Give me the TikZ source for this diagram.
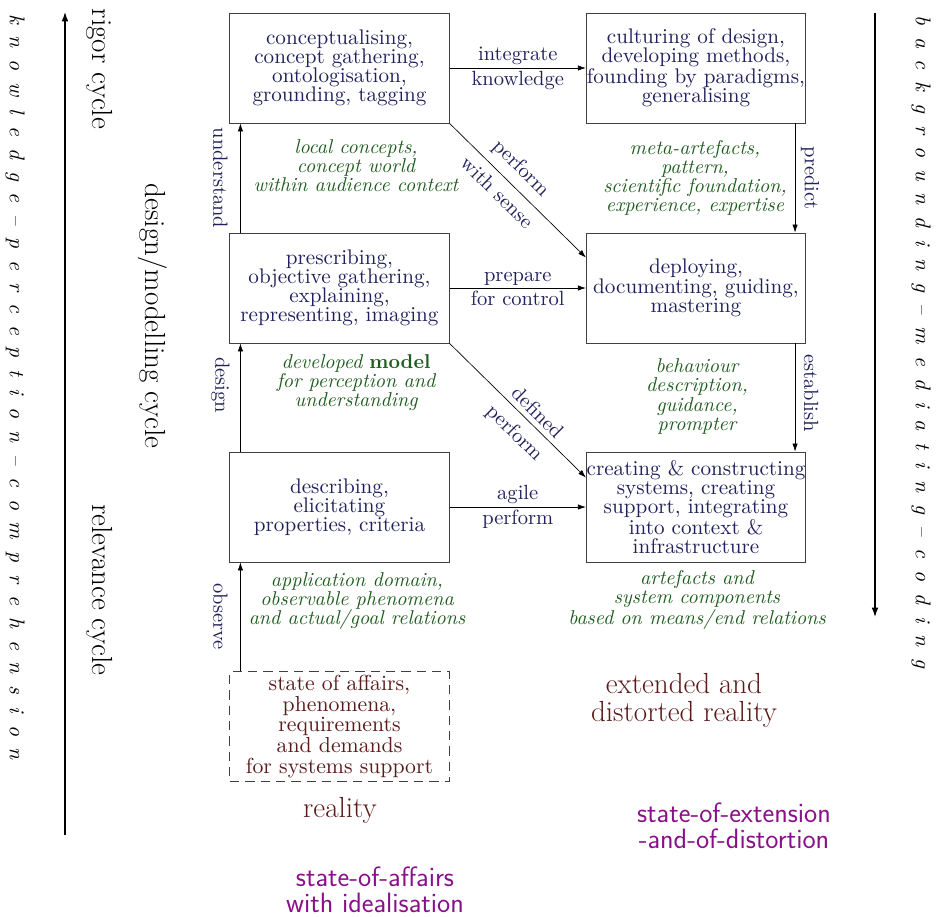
\documentclass[tikz,border=0pt]{standalone}
\usepackage{fontspec}
\usetikzlibrary{arrows.meta,calc}
\newfontfamily\lmten{lmroman10-regular.otf}[
  ItalicFont=lmroman10-italic.otf,
  BoldFont=lmroman10-bold.otf,
  BoldItalicFont=lmroman10-bolditalic.otf]
\definecolor{inkblue}{RGB}{32,32,92}
\definecolor{inkgreen}{RGB}{30,92,30}
\definecolor{inkbrown}{RGB}{90,26,26}
\definecolor{inkpurple}{RGB}{138,16,138}
\newcommand\boxfont{\lmten\fontsize{15.85}{14.4}\selectfont}
\newcommand\verbfont{\lmten\fontsize{15.4}{14.4}\selectfont}
\newcommand\notefont{\lmten\itshape\fontsize{15}{14.3}\selectfont}
\newcommand\bigfont{\fontsize{21.8}{21}\selectfont}
\newcommand\spacedfont{\lmten\itshape\fontsize{16}{18}\selectfont\spaceskip=9pt plus 0pt minus 0pt\relax}

\begin{document}
\begin{tikzpicture}[x=0.75pt,y=-0.75pt,
  stage/.style={draw=black!75,line width=0.6pt,minimum width=164.5pt,minimum height=82.5pt,
    inner sep=0pt,align=center,text=inkblue,font=\boxfont},
  flow/.style={-{Latex[length=6pt,width=4pt]},line width=0.5pt},
  axis/.style={-{Latex[length=7pt,width=5pt]},line width=0.9pt},
  verb/.style={font=\verbfont,text=inkblue,inner sep=2pt},
  vverb/.style={font=\verbfont,text=inkblue,inner sep=0pt,rotate=-90},
  note/.style={font=\notefont,text=inkgreen,align=center,inner sep=0pt},
  cyc/.style={font=\bigfont,rotate=-90,inner sep=0pt},
  spaced/.style={font=\spacedfont,rotate=-90,inner sep=0pt},
  realm/.style={font=\bigfont,text=inkbrown,align=center,inner sep=0pt},
  statelbl/.style={font={\sffamily\fontsize{21}{19.3}\selectfont},text=inkpurple,align=center,inner sep=0pt}]
\useasboundingbox (0,0) rectangle (936,917);

% stages of the cycle
\node[stage] (b1) at (339.5,68) {conceptualising,\\concept gathering,\\ontologisation,\\grounding, tagging};
\node[stage] (b2) at (696,68) {culturing of design,\\developing methods,\\founding by paradigms,\\generalising};
\node[stage] (b3) at (339.5,288) {prescribing,\\objective gathering,\\explaining,\\representing, imaging};
\node[stage] (b4) at (696,288) {deploying,\\documenting, guiding,\\mastering};
\node[stage] (b5) at (339.5,507) {describing,\\elicitating\\properties, criteria};
\node[stage] (b6) at (696,507) {creating \& constructing\\systems, creating\\support, integrating\\into context \&\\infrastructure};
\node[stage,dash pattern=on 7pt off 4.5pt,text=inkbrown,font={\lmten\fontsize{16.3}{15.4}\selectfont}] (b7) at (339.5,726.5)
  {state of affairs,\\phenomena,\\requirements\\and demands\\for systems support};

% horizontal transitions
\draw[flow] (b1.east) -- node[verb,above]{integrate} node[verb,below]{knowledge} (b2.west);
\draw[flow] (b3.east) -- node[verb,above]{prepare} node[verb,below]{for control} (b4.west);
\draw[flow] (b5.east) -- node[verb,above]{agile} node[verb,below]{perform} (b6.west);

% diagonal transitions
\draw[flow] (b1.south east) -- node[verb,sloped,above=4pt,pos=0.43]{perform}
  node[verb,sloped,below=4pt,pos=0.43]{with sense} ($(b4.north west)+(0,25)$);
\draw[flow] (b3.south east) -- node[verb,sloped,above=2pt,pos=0.58]{defined}
  node[verb,sloped,below=5pt,pos=0.57]{perform} ($(b6.north west)+(0,26)$);

% vertical transitions
\draw[flow] ($(b3.north west)+(11,0)$) -- ($(b1.south west)+(11,0)$);
\draw[flow] ($(b5.north west)+(11,0)$) -- ($(b3.south west)+(11,0)$);
\draw[flow] ($(b7.north west)+(11,0)$) -- ($(b5.south west)+(11,0)$);
\draw[flow] ($(b2.south east)+(-11,0)$) -- ($(b4.north east)+(-11,0)$);
\draw[flow] ($(b4.south east)+(-11,0)$) -- ($(b6.north east)+(-11,0)$);
\node[vverb] (lu) at ($(b1.south west)!.5!(b3.north west)+(-9,0)$) {understand};
\node[vverb] (ld) at ($(b3.south west)!.385!(b5.north west)+(-9,0)$) {design};
\node[vverb] (lo) at ($(b5.south west)!.5!(b7.north west)+(-9,0)$) {observe};
\node[vverb] (lp) at ($(b2.south east)!.5!(b4.north east)+(4,0)$) {predict};
\node[vverb] (le) at ($(b4.south east)!.46!(b6.north east)+(5,0)$) {establish};

% descriptions between the stages
\node[note] (n1) at (356,165.5) {local concepts,\\concept world\\within audience context};
\node[note] (n2) at (695,178) {meta-artefacts,\\pattern,\\scientific foundation,\\experience, expertise};
\node[note] (n3) at (356,383) {developed \textbf{\upshape model}\\for perception and\\understanding};
\node[note] (n4) at (697,396.5) {behaviour\\description,\\guidance,\\prompter};
\node[note] (n5) at (357,601) {application domain,\\observable phenomena\\and actual/goal relations};
\node[note] (n6) at (697,600) {artefacts and\\system components\\based on means/end relations};

% cycles
\node[cyc] (rig) at (100,69) {rigor cycle};
\node[cyc] (rel) at (100,590) {relevance cycle};
\node[cyc] (dmc) at (153,316) {design/modelling cycle};

% outer axes
\coordinate (kb) at (65,835);
\coordinate (kt) at (65,12);
\draw[axis] (kb) -- (kt);
\coordinate (mt) at (875,13);
\coordinate (mb) at (875,617);
\draw[axis] (mt) -- (mb);
\node[spaced] (kpc) at (15,387) {k n o w l e d g e \textendash{} p e r c e p t i o n \textendash{} c o m p r e h e n s i o n};
\node[spaced] (bmc) at (921,342) {b a c k g r o u n d i n g \textendash{} m e d i a t i n g \textendash{} c o d i n g};

% realities and their states
\node[realm] (real) at (340,810) {reality};
\node[realm] (ext) at (684,700) {extended and\\distorted reality};
\node[statelbl] (soe) at (734,826) {state-of-extension\\-and-of-distortion};
\node[statelbl] (soa) at (375,890) {state-of-affairs\\with idealisation};
\end{tikzpicture}
\end{document}
